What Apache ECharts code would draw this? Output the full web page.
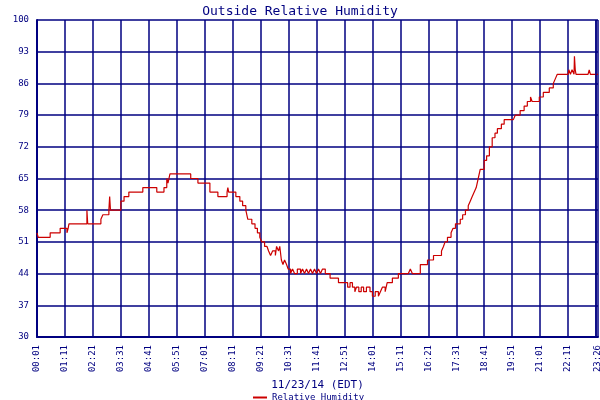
<!DOCTYPE html>
<html><head><meta charset="utf-8">
<script src="https://cdn.jsdelivr.net/npm/echarts@6/dist/echarts.min.js"></script>
<style>html,body{margin:0;padding:0;background:#fff}#c{width:600px;height:400px}</style>
</head><body><div id="c"></div>
<script>
// minutes since 00:01, and relative humidity (%)
const minutes = [0,3,33,58,75,78,80,125,127,129,160,165,180,182,184,186,210,218,230,265,300,318,325,328,333,370,385,403,433,453,476,478,480,491,498,508,515,523,528,533,538,546,552,558,563,570,576,580,585,590,597,600,605,608,612,616,620,625,629,635,640,645,652,660,665,670,675,680,685,690,695,700,705,710,715,722,734,745,755,771,778,784,790,796,800,806,812,818,825,834,840,847,855,860,865,872,877,890,905,930,935,940,960,978,993,1003,1013,1018,1022,1028,1037,1042,1048,1060,1066,1073,1080,1085,1090,1095,1100,1105,1110,1113,1120,1126,1133,1140,1147,1153,1163,1170,1193,1198,1210,1220,1228,1236,1240,1250,1258,1268,1283,1293,1298,1303,1330,1332,1336,1340,1345,1346,1348,1350,1356,1380,1383,1386,1405];
const humidity = [53,52,53,54,53,54,55,58,55,55,56,57,58,61,58,58,60,61,62,63,62,63,65,64,66,66,65,64,62,61,62,63,62,62,61,60,59,58,56,56,55,54,53,52,51,50,50,49,48,49,48,50,49,50,47,46,47,46,45,44,45,44,45,44,45,44,45,44,45,44,45,44,45,44,45,44,43,43,42,42,41,42,41,40,41,40,41,40,41,40,39,40,39,40,41,40,42,43,44,44,45,44,46,47,48,48,49,50,51,52,53,54,55,56,57,58,59,60,61,62,63,65,67,67,69,70,72,74,75,76,77,78,78,79,80,81,82,83,82,82,83,84,85,86,87,88,88,89,88,89,88,92,89,88,88,88,89,88,88];
const yTicks = [30,37,44,51,58,65,72,79,86,93,100];
const seriesName = 'Relative Humidity';
const titleText = 'Outside Relative Humidity';
const xName = '11/23/14 (EDT)';
const yName = 'Per Cent';

function fmt(m){ m=Math.round(m)+1; const h=Math.floor(m/60), mm=m%60; return String(h).padStart(2,'0')+':'+String(mm).padStart(2,'0'); }
const blue='#000080', red='#cc0000', font='DejaVu Sans Mono';
const chart = echarts.init(document.getElementById('c'));
chart.setOption({
  animation:false,
  backgroundColor:'#fff',
  title:{text:titleText,left:'center',top:0,textStyle:{color:blue,fontFamily:font,fontSize:13,fontWeight:'normal'}},
  legend:{top:388,left:248,itemWidth:14,itemHeight:2,itemGap:4,icon:'rect',textStyle:{color:blue,fontFamily:font,fontSize:9},data:[seriesName]},
  grid:{left:37,right:2,top:20,bottom:63,containLabel:false,outerBoundsMode:'none'},
  xAxis:{type:'value',min:0,max:1405,interval:70,name:xName,nameLocation:'middle',nameGap:42,
    nameTextStyle:{color:blue,fontFamily:font,fontSize:11},
    axisLine:{lineStyle:{color:blue,width:2}},axisTick:{show:false},
    axisLabel:{rotate:90,color:blue,fontFamily:font,fontSize:9,formatter:v=>fmt(v),showMaxLabel:true},
    splitLine:{show:true,lineStyle:{color:blue,width:1.5}}},
  yAxis:{type:'value',min:yTicks[0],max:yTicks[yTicks.length-1],interval:7,name:yName,nameLocation:'middle',nameGap:25,
    nameTextStyle:{color:blue,fontFamily:font,fontSize:11},
    axisLine:{show:true,lineStyle:{color:blue,width:2}},axisTick:{show:false},
    axisLabel:{color:blue,fontFamily:font,fontSize:9},
    splitLine:{show:true,lineStyle:{color:blue,width:1.5}}},
  series:[{name:seriesName,type:'line',step:'end',symbol:'none',color:red,lineStyle:{color:red,width:1.2},
    data:minutes.map((m,i)=>[m,humidity[i]]),
    markLine:{silent:true,symbol:'none',label:{show:false},lineStyle:{color:blue,width:1.5,type:'solid'},data:[{xAxis:1400}]}}]
});
</script></body></html>
